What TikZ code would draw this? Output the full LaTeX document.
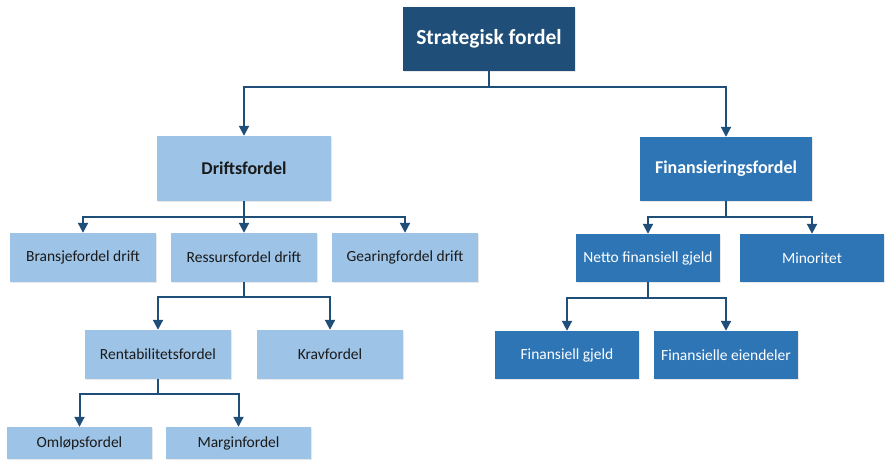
\documentclass[tikz,border=0pt]{standalone}
\usepackage{fontspec}
\setmainfont{Carlito}
\usetikzlibrary{arrows.meta,shadows}
\definecolor{navy}{HTML}{1F4E79}
\definecolor{midblue}{HTML}{2E75B6}
\definecolor{lightblue}{HTML}{9DC3E6}
\definecolor{arrowcol}{HTML}{1F4E79}
\definecolor{darktext}{HTML}{1A1A1A}
\tikzset{
  box/.style={rectangle, inner sep=0pt, align=center,
    drop shadow={opacity=0.18, shadow xshift=1.2pt, shadow yshift=-1.2pt}},
  topbox/.style={box, fill=navy, text=white, font=\bfseries\fontsize{21.5}{24}\selectfont},
  lvlonelight/.style={box, fill=lightblue, text=darktext, font=\bfseries\fontsize{18}{21}\selectfont},
  lvlonedark/.style={box, fill=midblue, text=white, font=\bfseries\fontsize{18}{21}\selectfont},
  lightbox/.style={box, fill=lightblue, text=darktext, font=\fontsize{15.5}{18}\selectfont},
  darkbox/.style={box, fill=midblue, text=white, font=\fontsize{15.5}{18}\selectfont},
  arr/.style={draw=arrowcol, line width=2pt, -{Triangle[width=10pt,length=10pt]}},
}
\begin{document}
\begin{tikzpicture}[x=1pt,y=-1pt]
\useasboundingbox (0,0) rectangle (892,466);
\node[topbox, minimum width=172pt, minimum height=64pt] (S) at (489,39) {Strategisk fordel};
\node[lvlonelight, minimum width=174pt, minimum height=65pt] (D) at (244,168.5) {Driftsfordel};
\node[lvlonedark, minimum width=172pt, minimum height=64pt] (F) at (726,169) {Finansieringsfordel};
\node[lightbox, minimum width=146pt, minimum height=49pt] (B) at (83,257.5) {Bransjefordel drift};
\node[lightbox, minimum width=146pt, minimum height=49pt] (R) at (244,257.5) {Ressursfordel drift};
\node[lightbox, minimum width=146pt, minimum height=49pt] (G) at (405,257.5) {Gearingfordel drift};
\node[darkbox, minimum width=144pt, minimum height=48pt] (N) at (648,258) {Netto finansiell gjeld};
\node[darkbox, minimum width=144pt, minimum height=48pt] (M) at (812,258) {Minoritet};
\node[lightbox, minimum width=146pt, minimum height=49pt] (Rt) at (158,354.5) {Rentabilitetsfordel};
\node[lightbox, minimum width=146pt, minimum height=49pt] (K) at (330,354.5) {Kravfordel};
\node[darkbox, minimum width=144pt, minimum height=48pt] (FG) at (567,355) {Finansiell gjeld};
\node[darkbox, minimum width=144pt, minimum height=48pt] (FE) at (726,355) {Finansielle eiendeler};
\node[lightbox, minimum width=145pt, minimum height=32pt] (O) at (79.5,443) {Omløpsfordel};
\node[lightbox, minimum width=145pt, minimum height=32pt] (Mg) at (238.5,443) {Marginfordel};
% connectors
\draw[arr] (S.south) -- ++(0,16) -| (D.north);
\draw[arr] (S.south) -- ++(0,16) -| (F.north);
\draw[arr] (D.south) -- ++(0,16) -| (B.north);
\draw[arr] (D.south) -- (R.north);
\draw[arr] (D.south) -- ++(0,16) -| (G.north);
\draw[arr] (F.south) -- ++(0,16) -| (N.north);
\draw[arr] (F.south) -- ++(0,16) -| (M.north);
\draw[arr] (R.south) -- ++(0,15) -| (Rt.north);
\draw[arr] (R.south) -- ++(0,15) -| (K.north);
\draw[arr] (N.south) -- ++(0,16) -| (FG.north);
\draw[arr] (N.south) -- ++(0,16) -| (FE.north);
\draw[arr] (Rt.south) -- ++(0,15) -| (O.north);
\draw[arr] (Rt.south) -- ++(0,15) -| (Mg.north);
\end{tikzpicture}
\end{document}
